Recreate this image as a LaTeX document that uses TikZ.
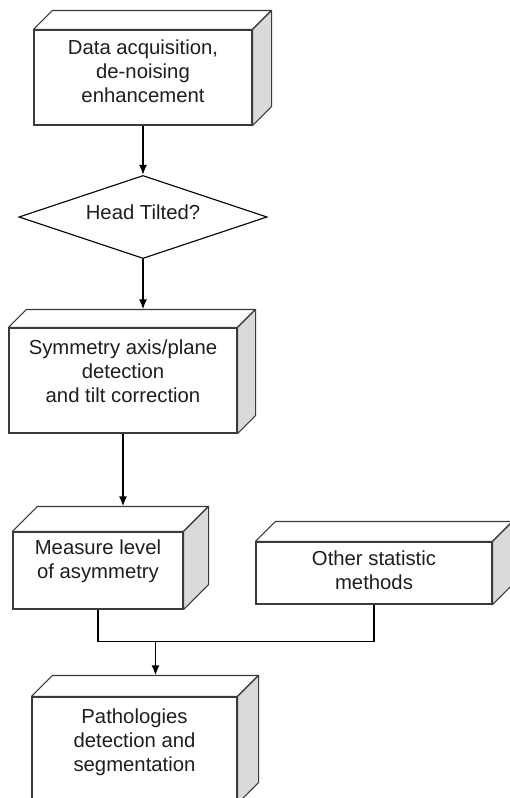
\documentclass[tikz,border=0pt]{standalone}
\usepackage{fontspec}
\setmainfont{Liberation Sans}
\usetikzlibrary{positioning,calc,shapes.geometric,arrows.meta}
\definecolor{edgegray}{HTML}{3A3A3A}
\definecolor{sidegray}{HTML}{D9DADB}
\definecolor{inkgray}{HTML}{1E1E1E}

\begin{document}
\begin{tikzpicture}
[
    x=1pt, y=-1pt,
    block/.style={rectangle, draw=edgegray, line width=1.1pt, fill=white, inner sep=0pt},
    face/.style={draw=edgegray, line width=1.1pt, line join=round},
    blocktext/.style={align=center, inner sep=0pt, text=inkgray, font=\fontsize{20.3}{24}\selectfont},
    decision/.style={diamond, aspect=3, draw=black, line width=1.1pt, inner sep=0pt, text=inkgray, text depth=9pt, font=\fontsize{20.3}{24}\selectfont},
    flow/.style={line width=1.8pt, -{Latex[length=10pt,width=8pt]}},
    mergeline/.style={line width=1.8pt},
]
\useasboundingbox (0,0) rectangle (509,798);

% front faces
\node [block, minimum width=218pt, minimum height=95pt] (acq) at (143,77.5) {};
\node [decision, minimum width=248pt, minimum height=83pt] (tilt) at (143,217) {Head Tilted?};
\node [block, minimum width=228pt, minimum height=105pt] (sym) at (123,380.5) {};
\node [block, minimum width=170pt, minimum height=77pt] (meas) at (98,570.5) {};
\node [block, minimum width=236pt, minimum height=62pt] (other) at (374,573) {};
\node [block, minimum width=205pt, minimum height=106pt] (path) at (134.5,750) {};

% top and side faces
\foreach \n/\d in {acq/19,sym/18,meas/25,other/20,path/21}
{
    \draw [face, fill=white] (\n.north west) -- ++(\d,-\d) -- ($(\n.north east)+(\d,-\d)$) -- (\n.north east) -- cycle;
    \draw [face, fill=sidegray] (\n.north east) -- ++(\d,-\d) -- ($(\n.south east)+(\d,-\d)$) -- (\n.south east) -- cycle;
    \coordinate (\n-back) at ($(\n.north)+(\d,-\d)$);
}

% texts
\node [blocktext, below=10pt of acq.north] (acq-text) {Data acquisition,\\ de-noising\\ enhancement};
\node [blocktext, below=12pt of sym.north] (sym-text) {Symmetry axis/plane\\ detection\\ and tilt correction};
\node [blocktext, below=8pt of meas.north] (meas-text) {Measure level\\ of asymmetry};
\node [blocktext, below=9pt of other.north] (other-text) {Other statistic\\ methods};
\node [blocktext, below=12pt of path.north] (path-text) {Pathologies\\ detection and\\ segmentation};

% connectors
\draw [flow] (acq.south) -- (tilt.north);
\draw [flow] (tilt.south) -- (tilt.south |- sym-back);
\draw [flow] (sym.south) -- (sym.south |- meas-back);
\coordinate (merge) at ($(path-back)+(0,-34)$);
\draw [mergeline] (meas.south) |- (merge);
\draw [mergeline] (other.south) |- (merge);
\draw [flow] (merge) -- (path-back);
\end{tikzpicture}
\end{document}
